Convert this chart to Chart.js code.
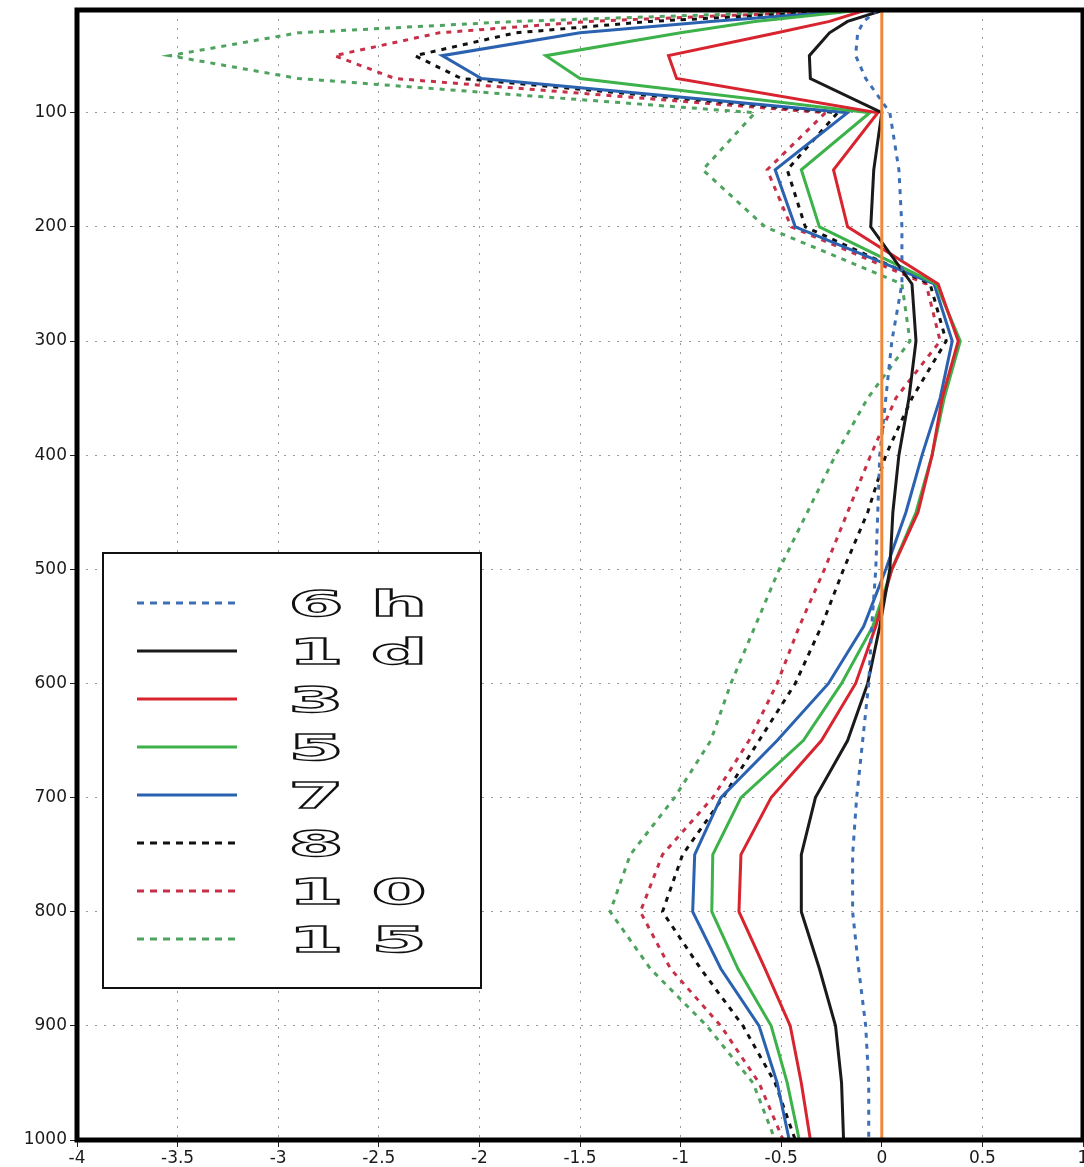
<!DOCTYPE html>
<html>
<head>
<meta charset="utf-8">
<script src="https://cdn.jsdelivr.net/npm/chart.js@4/dist/chart.umd.min.js"></script>
<style>
  html, body { margin: 0; padding: 0; background: #fff; }
  #wrap { width: 1084px; height: 1167px; }
</style>
</head>
<body>
<div id="wrap"><canvas id="profile" width="1084" height="1167"></canvas></div>
<script>
// pressure levels (hPa) shared by every profile
const pressureLevels = [10, 20, 30, 50, 70, 100, 150, 200, 250, 300, 350, 400, 450, 500, 550, 600, 650, 700, 750, 800, 850, 900, 950, 1000];

// mean difference per level for each forecast lead
const lead6h  = [-0.02, -0.09, -0.12, -0.13, -0.08, 0.04, 0.085, 0.10, 0.10, 0.05, 0.02, -0.01, -0.02, -0.03, -0.05, -0.065, -0.095, -0.125, -0.145, -0.145, -0.115, -0.08, -0.065, -0.065];
const lead1d  = [0.01, -0.17, -0.26, -0.36, -0.355, 0.0, -0.04, -0.055, 0.15, 0.17, 0.135, 0.085, 0.055, 0.04, -0.01, -0.07, -0.17, -0.33, -0.40, -0.40, -0.31, -0.23, -0.20, -0.19];
const lead3d  = [-0.08, -0.26, -0.52, -1.06, -1.02, -0.02, -0.24, -0.17, 0.28, 0.38, 0.30, 0.25, 0.18, 0.05, -0.03, -0.13, -0.30, -0.55, -0.70, -0.71, -0.58, -0.455, -0.40, -0.355];
const lead5d  = [-0.10, -0.63, -1.00, -1.67, -1.50, -0.06, -0.40, -0.31, 0.27, 0.39, 0.31, 0.25, 0.17, 0.05, -0.045, -0.20, -0.39, -0.70, -0.84, -0.845, -0.715, -0.55, -0.47, -0.41];
const lead7d  = [-0.10, -0.85, -1.50, -2.185, -1.99, -0.17, -0.53, -0.43, 0.26, 0.35, 0.29, 0.20, 0.12, 0.02, -0.09, -0.265, -0.52, -0.80, -0.93, -0.94, -0.80, -0.61, -0.52, -0.46];
const lead8d  = [-0.10, -1.15, -1.82, -2.32, -2.09, -0.22, -0.47, -0.38, 0.24, 0.32, 0.15, 0.02, -0.07, -0.19, -0.30, -0.43, -0.61, -0.79, -0.99, -1.09, -0.90, -0.69, -0.53, -0.43];
const lead10d = [-0.12, -1.45, -2.20, -2.72, -2.42, -0.28, -0.57, -0.45, 0.22, 0.29, 0.07, -0.055, -0.17, -0.285, -0.41, -0.52, -0.66, -0.84, -1.09, -1.20, -1.05, -0.80, -0.61, -0.49];
const lead15d = [-0.15, -1.82, -2.90, -3.54, -2.90, -0.63, -0.89, -0.58, 0.10, 0.14, -0.07, -0.23, -0.37, -0.51, -0.63, -0.75, -0.85, -1.03, -1.25, -1.35, -1.15, -0.87, -0.64, -0.53];

const leadLabels = ['6h', '1d', '3', '5', '7', '8', '10', '15'];

// zero reference line
const zeroLine = [0, 0];
const zeroLevels = [10, 1000];

const xTicks = [-4, -3.5, -3, -2.5, -2, -1.5, -1, -0.5, 0, 0.5, 1];
const yTicks = [100, 200, 300, 400, 500, 600, 700, 800, 900, 1000];

const DOT = [5, 6];
const styles = [
  { color: '#3d6fb6', dash: DOT },
  { color: '#1a1a1a', dash: [] },
  { color: '#d7242f', dash: [] },
  { color: '#3db14a', dash: [] },
  { color: '#2b62b0', dash: [] },
  { color: '#111111', dash: DOT },
  { color: '#c73048', dash: DOT },
  { color: '#4ea35f', dash: DOT },
];

const profiles = [lead6h, lead1d, lead3d, lead5d, lead7d, lead8d, lead10d, lead15d];

const toPoints = (vals, levels) => vals.map((v, i) => ({ x: v, y: levels[i] }));

const datasets = [{
  label: 'zero',
  data: toPoints(zeroLine, zeroLevels),
  borderColor: '#f0883a',
  borderWidth: 3,
  pointRadius: 0,
  hideInKey: true,
}];
profiles.forEach((vals, i) => {
  datasets.push({
    label: leadLabels[i],
    data: toPoints(vals, pressureLevels),
    borderColor: styles[i].color,
    borderDash: styles[i].dash,
    borderWidth: 3,
    pointRadius: 0,
    tension: 0,
  });
});

// thick black frame around the plot area
const frame = {
  id: 'frame',
  afterDatasetsDraw(chart) {
    const { ctx, chartArea: { left, top, right, bottom } } = chart;
    ctx.save();
    ctx.strokeStyle = '#000';
    ctx.lineWidth = 5;
    ctx.strokeRect(left, top, right - left, bottom - top);
    ctx.restore();
  }
};

// boxed key in the lower left of the plot
const leadKey = {
  id: 'leadKey',
  afterDraw(chart) {
    const { ctx, chartArea: { left, top } } = chart;
    const bx = left + 26, by = top + 543, bw = 378, bh = 435;
    ctx.save();
    ctx.fillStyle = '#fff';
    ctx.fillRect(bx, by, bw, bh);
    ctx.strokeStyle = '#111';
    ctx.lineWidth = 2;
    ctx.strokeRect(bx, by, bw, bh);

    const items = chart.data.datasets.filter(d => !d.hideInKey);
    items.forEach((ds, i) => {
      const y = by + 50 + i * 48;
      ctx.beginPath();
      ctx.setLineDash(ds.borderDash.length ? [7, 6] : []);
      ctx.strokeStyle = ds.borderColor;
      ctx.lineWidth = 3;
      ctx.moveTo(bx + 34, y);
      ctx.lineTo(bx + 134, y);
      ctx.stroke();
      ctx.setLineDash([]);

      // wide hollow glyphs, one cell per character
      const chars = ds.label.split('');
      chars.forEach((ch, k) => {
        ctx.save();
        ctx.translate(bx + 213 + k * 83, y + 13);
        ctx.scale(2.2, 1);
        ctx.font = 'bold 36px "DejaVu Sans"';
        ctx.textAlign = 'center';
        ctx.textBaseline = 'alphabetic';
        ctx.strokeStyle = '#111';
        ctx.lineWidth = 1.4;
        ctx.strokeText(ch, 0, 0);
        ctx.restore();
      });
    });
    ctx.restore();
  }
};

const gridStyle = {
  color: '#9a9a9a',
  lineWidth: 1,
  tickColor: '#222',
  tickLength: 7,
};

const tickFont = { family: '"DejaVu Sans"', size: 17 };

new Chart(document.getElementById('profile').getContext('2d'), {
  type: 'line',
  data: { datasets },
  plugins: [frame, leadKey],
  options: {
    responsive: false,
    animation: false,
    devicePixelRatio: 1,
    layout: { padding: { top: 10, right: 1, left: 0, bottom: 0 } },
    plugins: { legend: { display: false }, tooltip: { enabled: false } },
    scales: {
      x: {
        type: 'linear',
        min: -4,
        max: 1,
        afterBuildTicks: s => { s.ticks = xTicks.map(v => ({ value: v })); },
        afterFit: s => { s.height = 27; s.paddingLeft = 0; s.paddingRight = 0; },
        border: { display: false, dash: [2, 7] },
        grid: gridStyle,
        ticks: {
          autoSkip: false,
          maxRotation: 0,
          padding: 1,
          color: '#1a1a1a',
          font: tickFont,
          callback: v => String(v),
        },
      },
      y: {
        type: 'linear',
        reverse: true,
        min: 10,
        max: 1000,
        afterBuildTicks: s => { s.ticks = yTicks.map(v => ({ value: v })); },
        afterFit: s => { s.width = 77; s.paddingTop = 0; s.paddingBottom = 0; },
        border: { display: false, dash: [2, 7] },
        grid: gridStyle,
        ticks: {
          autoSkip: false,
          padding: 3,
          color: '#1a1a1a',
          font: tickFont,
          callback: v => String(v),
        },
      },
    },
  },
});
</script>
</body>
</html>
